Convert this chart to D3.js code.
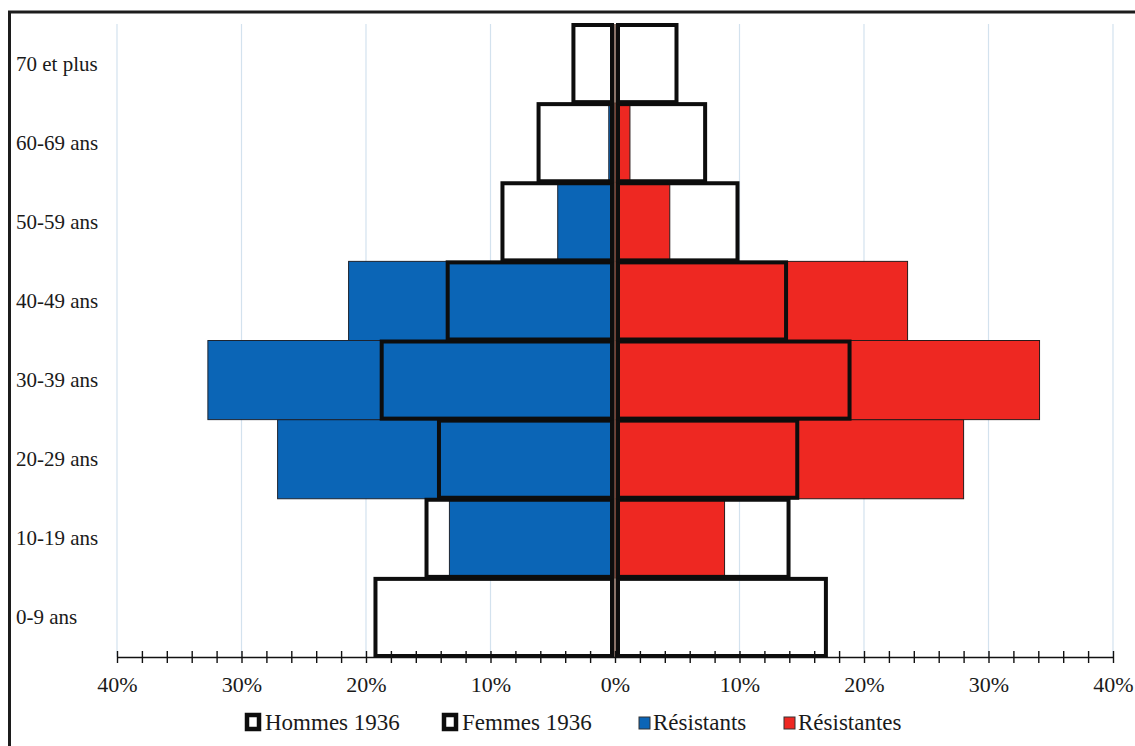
<!DOCTYPE html>
<html>
<head>
<meta charset="utf-8">
<script src="https://cdn.jsdelivr.net/npm/d3@7"></script>
<style>
  body { margin: 0; background: #fff; }
  svg text { font-family: "Liberation Serif", "DejaVu Serif", serif !important; fill: #1a1a1a; }
</style>
</head>
<body>
<div class="graph"></div>
<script>
// age groups, bottom to top
const categories = ["0-9 ans", "10-19 ans", "20-29 ans", "30-39 ans", "40-49 ans", "50-59 ans", "60-69 ans", "70 et plus"];
// percentages, same order as categories
const hommes1936  = [19.4, 15.3, 14.3, 18.9, 13.6, 9.2, 6.3, 3.5];
const femmes1936  = [17.1, 14.1, 14.8, 19.0, 13.9, 10.0, 7.4, 5.1];
const resistants  = [0, 13.3, 27.1, 32.7, 21.4, 4.6, 0.5, 0];
const resistantes = [0, 8.8, 28.0, 34.1, 23.5, 4.4, 1.2, 0];
const xTicks = [-40, -30, -20, -10, 0, 10, 20, 30, 40];
const legendLabels = ["Hommes 1936", "Femmes 1936", "Résistants", "Résistantes"];

const W = 1135, H = 746;
const svg = d3.select(".graph").append("svg").attr("width", W).attr("height", H);

// frame (top + left only, like the scan)
svg.append("line").attr("x1", 8).attr("x2", W).attr("y1", 12).attr("y2", 12)
  .attr("stroke", "#1c1c1c").attr("stroke-width", 3);
svg.append("line").attr("x1", 9.5).attr("x2", 9.5).attr("y1", 11).attr("y2", H)
  .attr("stroke", "#1c1c1c").attr("stroke-width", 3);

const x = d3.scaleLinear().domain([-40, 40]).range([117, 1113]);
const y = d3.scaleBand().domain(categories.slice().reverse()).range([24, 657]).padding(0);
const x0 = x(0);

// grid
svg.append("g").selectAll("line").data(xTicks).join("line")
  .attr("x1", d => x(d)).attr("x2", d => x(d))
  .attr("y1", 24).attr("y2", 657)
  .attr("stroke", "#d3e2ee").attr("stroke-width", 1.2);

// coloured bars
const rows = categories.map((c, i) => ({ c, h: hommes1936[i], f: femmes1936[i], rm: resistants[i], rf: resistantes[i] }));

svg.append("g").selectAll("rect").data(rows.filter(d => d.rm > 0)).join("rect")
  .attr("x", d => x(-d.rm)).attr("width", d => x0 - x(-d.rm))
  .attr("y", d => y(d.c)).attr("height", y.bandwidth())
  .attr("fill", "#0b65b6").attr("stroke", "#1d2430").attr("stroke-width", 1);

svg.append("g").selectAll("rect").data(rows.filter(d => d.rf > 0)).join("rect")
  .attr("x", x0).attr("width", d => x(d.rf) - x0)
  .attr("y", d => y(d.c)).attr("height", y.bandwidth())
  .attr("fill", "#ee2822").attr("stroke", "#2a1a1a").attr("stroke-width", 1);

// 1936 outlines
const sw = 4;
svg.append("g").selectAll("rect").data(rows).join("rect")
  .attr("x", d => x(-d.h) + sw / 2).attr("width", d => x0 - x(-d.h) - sw - 1)
  .attr("y", d => y(d.c) + 1).attr("height", y.bandwidth() - 2)
  .attr("fill", "none").attr("stroke", "#0d0d0d").attr("stroke-width", sw);

svg.append("g").selectAll("rect").data(rows).join("rect")
  .attr("x", x0 + 1 + sw / 2).attr("width", d => x(d.f) - x0 - sw - 1)
  .attr("y", d => y(d.c) + 1).attr("height", y.bandwidth() - 2)
  .attr("fill", "none").attr("stroke", "#0d0d0d").attr("stroke-width", sw);

// centre line
svg.append("line").attr("x1", x0).attr("x2", x0).attr("y1", 24).attr("y2", 657)
  .attr("stroke", "#6b4a3a").attr("stroke-width", 1.5);

// x axis
const xaxis = d3.axisBottom(x)
  .tickValues(d3.range(-40, 41, 2))
  .tickFormat(d => d % 10 === 0 ? Math.abs(d) + "%" : "")
  .tickSizeInner(6).tickSizeOuter(0).tickPadding(13);

const ax = svg.append("g").attr("transform", "translate(0,657)").call(xaxis);
ax.attr("font-family", null);
ax.select(".domain").attr("stroke", "#111").attr("stroke-width", 1.6);
ax.selectAll(".tick line").attr("y1", -6).attr("stroke", "#111").attr("stroke-width", 1.4);
ax.selectAll(".tick text").style("font-size", "22px").attr("fill", "#1a1a1a");

// category labels
svg.append("g").selectAll("text").data(categories).join("text")
  .attr("x", 16).attr("y", d => y(d) + y.bandwidth() / 2 + 7)
  .style("font-size", "21px")
  .text(d => d);

// legend
const legendX = [245, 442, 638, 783];
const lg = svg.append("g").selectAll("g").data(legendLabels).join("g")
  .attr("transform", (d, i) => "translate(" + legendX[i] + ",0)");

lg.filter((d, i) => i < 2).append("rect")
  .attr("x", 2).attr("y", 715).attr("width", 12).attr("height", 14)
  .attr("fill", "#fff").attr("stroke", "#0d0d0d").attr("stroke-width", 4.5);
lg.filter((d, i) => i >= 2).append("rect")
  .attr("x", 1).attr("y", 717).attr("width", 11).attr("height", 12)
  .attr("fill", (d, i) => i === 0 ? "#0b65b6" : "#ee2822")
  .attr("stroke", "#333").attr("stroke-width", 1);

lg.append("text")
  .attr("x", (d, i) => i < 2 ? 20 : 15).attr("y", 730)
  .style("font-size", "23px")
  .text(d => d);
</script>
</body>
</html>
